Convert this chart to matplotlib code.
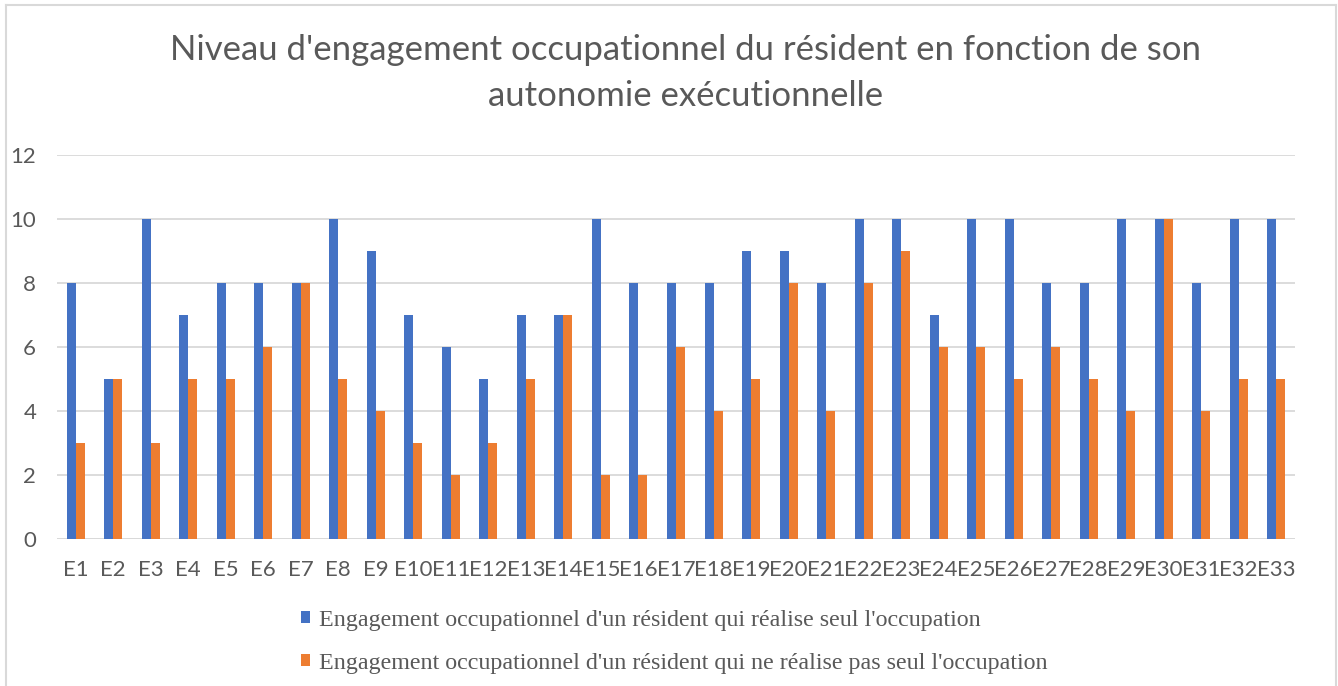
import numpy as np
import matplotlib.pyplot as plt
from matplotlib.lines import Line2D

# Data
categories = [f"E{i}" for i in range(1, 34)]
seul = [8, 5, 10, 7, 8, 8, 8, 10, 9, 7, 6, 5, 7, 7, 10, 8, 8, 8, 9, 9, 8,
        10, 10, 7, 10, 10, 8, 8, 10, 10, 8, 10, 10]
pas_seul = [3, 5, 3, 5, 5, 6, 8, 5, 4, 3, 2, 3, 5, 7, 2, 2, 6, 4, 5, 8, 4,
            8, 9, 6, 6, 5, 6, 5, 4, 10, 4, 5, 5]
labels = ["Engagement occupationnel d'un résident qui réalise seul l'occupation",
          "Engagement occupationnel d'un résident qui ne réalise pas seul l'occupation"]
yticks = [0, 2, 4, 6, 8, 10, 12]

W, H = 1338, 686
fig = plt.figure(figsize=(W / 100, H / 100), dpi=100)
ax = fig.add_axes([57 / W, (H - 539) / H, (1295 - 57) / W, (539 - 155) / H])

x = np.arange(len(categories))
w = 0.24
ax.bar(x - w / 2, seul, w, color="#4472C4", label=labels[0], zorder=3)
ax.bar(x + w / 2, pas_seul, w, color="#ED7D31", label=labels[1], zorder=3)

ax.set_xlim(-0.5, len(categories) - 0.5)
ax.set_ylim(0, 12)
ax.set_yticks(yticks)
ax.set_xticks(x)
ax.set_xticklabels(categories)
ax.grid(axis="y", color="#d9d9d9", linewidth=1.3, zorder=0)
for s in ["top", "right", "left", "bottom"]:
    ax.spines[s].set_visible(False)
ax.tick_params(axis="both", length=0, labelsize=16, labelcolor="#595959")
ax.tick_params(axis="y", pad=15)
ax.tick_params(axis="x", pad=15)
for t in ax.get_xticklabels() + ax.get_yticklabels():
    t.set_fontfamily("Lato")
ax.axhline(0, color="#d9d9d9", linewidth=1.3, zorder=1)

fig.text(686 / W, 1 - 73 / H,
         "Niveau d'engagement occupationnel du résident en fonction de son\nautonomie exécutionnelle",
         ha="center", va="center", fontsize=25, color="#595959", family="Lato",
         linespacing=1.57)

fig.legend(loc="upper left", bbox_to_anchor=(279 / W, 1 - 588 / H), frameon=False,
           prop={"family": "Liberation Serif", "size": 17.3}, labelcolor="#595959",
           handlelength=0.38, handleheight=0.38, handletextpad=0.38, labelspacing=0.92)

# chart border
bc = "#d9d9d9"
fig.add_artist(Line2D([6 / W, 6 / W], [0, 1 - 5 / H], color=bc, lw=1.5, transform=fig.transFigure))
fig.add_artist(Line2D([6 / W, 1336 / W], [1 - 5 / H, 1 - 5 / H], color=bc, lw=1.5, transform=fig.transFigure))
fig.add_artist(Line2D([1336 / W, 1336 / W], [0, 1 - 5 / H], color=bc, lw=1.5, transform=fig.transFigure))

fig.savefig("out.png", dpi=100)
